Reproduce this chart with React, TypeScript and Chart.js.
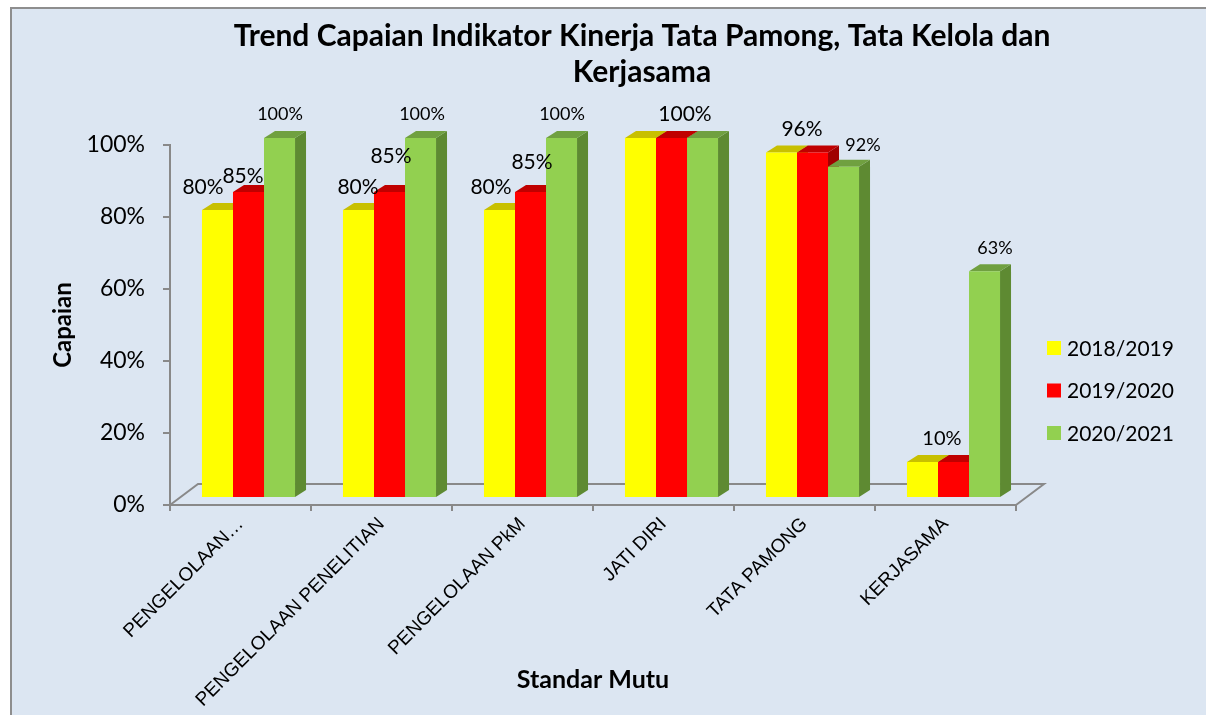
import React, { useEffect, useRef } from "react";
import { Chart, registerables } from "chart.js";

Chart.register(...registerables);

// ---------- data ----------
const categories = [
  "PENGELOLAAN…",
  "PENGELOLAAN PENELITIAN",
  "PENGELOLAAN PkM",
  "JATI DIRI",
  "TATA PAMONG",
  "KERJASAMA",
];
const seriesNames = ["2018/2019", "2019/2020", "2020/2021"];
const values2018 = [80, 80, 80, 100, 96, 10];
const values2019 = [85, 85, 85, 100, 96, 10];
const values2020 = [100, 100, 100, 100, 92, 63];
const yTickValues = [0, 20, 40, 60, 80, 100];

const titleLines = ["Trend Capaian Indikator Kinerja Tata Pamong, Tata Kelola dan", "Kerjasama"];
const yTitle = "Capaian";
const xTitle = "Standar Mutu";

// ---------- styles ----------
const seriesColors = [
  { front: "#FFFF00", top: "#C8C000", side: "#A8A200" },
  { front: "#FF0000", top: "#C00000", side: "#A00000" },
  { front: "#92D050", top: "#70A040", side: "#5E8A32" },
];
const axisGrey = "#898989";
const barPlane = { dx: 8, dy: -7 };
const barDepth = { dx: 11, dy: -7 };
const floorDepth = { dx: 28, dy: -21 };

// which value labels are shown, with their placement relative to the bar top
const valueLabels = [
  { s: 0, c: 0, dx: -14.5, dy: -23, size: 21 },
  { s: 1, c: 0, dx: -5.5, dy: -16, size: 21 },
  { s: 2, c: 0, dx: 0.5, dy: -24, size: 18 },
  { s: 0, c: 1, dx: -0.5, dy: -23, size: 21 },
  { s: 1, c: 1, dx: 1.5, dy: -36, size: 21 },
  { s: 2, c: 1, dx: 1.5, dy: -24, size: 18 },
  { s: 0, c: 2, dx: -8.5, dy: -23, size: 21 },
  { s: 1, c: 2, dx: 1.5, dy: -30, size: 21 },
  { s: 2, c: 2, dx: 0.5, dy: -24, size: 18 },
  { s: 1, c: 3, dx: 13.5, dy: -24, size: 21 },
  { s: 0, c: 4, dx: 20.5, dy: -23, size: 21 },
  { s: 2, c: 4, dx: 19.5, dy: -22, size: 18 },
  { s: 0, c: 5, dx: 19.5, dy: -23, size: 20 },
  { s: 2, c: 5, dx: 10.5, dy: -23, size: 18 },
];

const legendLayout = { x: 1047, y: 348, gap: 42.5, box: 14, textGap: 6, size: 21 };

function barGeom(chart: any, s: number, c: number) {
  const el = chart.getDatasetMeta(s).data[c];
  const p = el.getProps(["x", "y", "base", "width"], true);
  const L = p.x - p.width / 2 + barPlane.dx;
  const R = p.x + p.width / 2 + barPlane.dx;
  const T = p.y + barPlane.dy;
  const B = p.base + barPlane.dy;
  return { L, R, T, B, cx: p.x + barPlane.dx };
}

function poly(ctx: CanvasRenderingContext2D, pts: number[][], fill: string) {
  ctx.beginPath();
  ctx.moveTo(pts[0][0], pts[0][1]);
  for (let i = 1; i < pts.length; i++) ctx.lineTo(pts[i][0], pts[i][1]);
  ctx.closePath();
  ctx.fillStyle = fill;
  ctx.fill();
}

const threeDPlugin = {
  id: "threeD",
  beforeDatasetsDraw(chart: any) {
    const ctx: CanvasRenderingContext2D = chart.ctx;
    const { left, right, bottom } = chart.chartArea;
    ctx.save();
    // floor outline (back + sides)
    ctx.strokeStyle = axisGrey;
    ctx.lineWidth = 2;
    ctx.beginPath();
    ctx.moveTo(left, bottom);
    ctx.lineTo(left + floorDepth.dx, bottom + floorDepth.dy);
    ctx.lineTo(right + floorDepth.dx, bottom + floorDepth.dy);
    ctx.lineTo(right, bottom);
    ctx.stroke();
    // side and top faces
    const n = chart.data.labels.length;
    const m = chart.data.datasets.length;
    for (let c = 0; c < n; c++) {
      for (let s = 0; s < m; s++) {
        const { L, R, T, B } = barGeom(chart, s, c);
        const col = seriesColors[s];
        poly(
          ctx,
          [
            [R, T],
            [R + barDepth.dx, T + barDepth.dy],
            [R + barDepth.dx, B + barDepth.dy],
            [R, B],
          ],
          col.side
        );
        poly(
          ctx,
          [
            [L, T],
            [R, T],
            [R + barDepth.dx, T + barDepth.dy],
            [L + barDepth.dx, T + barDepth.dy],
          ],
          col.top
        );
      }
    }
    ctx.translate(barPlane.dx, barPlane.dy);
  },
  afterDatasetsDraw(chart: any) {
    const ctx: CanvasRenderingContext2D = chart.ctx;
    ctx.restore();
    ctx.save();
    // value labels
    ctx.fillStyle = "#000";
    ctx.textAlign = "center";
    ctx.textBaseline = "middle";
    valueLabels.forEach((lb) => {
      const { cx, T } = barGeom(chart, lb.s, lb.c);
      const v = chart.data.datasets[lb.s].data[lb.c];
      ctx.font = `${lb.size}px Lato`;
      ctx.fillText(`${v}%`, cx + lb.dx, T + lb.dy);
    });
    // legend
    ctx.textAlign = "left";
    ctx.font = `${legendLayout.size}px Lato`;
    chart.data.datasets.forEach((ds: any, i: number) => {
      const y = legendLayout.y + i * legendLayout.gap;
      ctx.fillStyle = ds.backgroundColor;
      ctx.fillRect(legendLayout.x, y - legendLayout.box / 2, legendLayout.box, legendLayout.box);
      ctx.fillStyle = "#000";
      ctx.fillText(ds.label, legendLayout.x + legendLayout.box + legendLayout.textGap, y + 1);
    });
    ctx.restore();
  },
};

export default function App() {
  const canvasRef = useRef<HTMLCanvasElement>(null);

  useEffect(() => {
    if (!canvasRef.current) return;
    const seriesValues = [values2018, values2019, values2020];
    const chart = new Chart(canvasRef.current, {
      type: "bar",
      data: {
        labels: categories,
        datasets: seriesNames.map((name, i) => ({
          label: name,
          data: seriesValues[i],
          backgroundColor: seriesColors[i].front,
          borderWidth: 0,
          categoryPercentage: 0.66,
          barPercentage: 1,
          clip: false as any,
        })),
      },
      options: {
        responsive: false,
        animation: false,
        layout: { padding: { left: 78, right: 0, top: 0, bottom: 0 } },
        plugins: {
          legend: { display: false },
          tooltip: { enabled: false },
          title: {
            display: true,
            text: titleLines,
            color: "#000",
            font: { family: "Lato", size: 30, weight: "bold", lineHeight: 36 / 30 },
            padding: { top: 18, bottom: 55 },
          },
        },
        scales: {
          x: {
            grid: {
              display: true,
              drawOnChartArea: false,
              drawTicks: true,
              tickLength: 6,
              color: axisGrey,
              lineWidth: 2,
            },
            border: { display: true, color: axisGrey, width: 2 },
            ticks: {
              autoSkip: false,
              minRotation: 45,
              maxRotation: 45,
              padding: 2,
              color: "#000",
              font: { family: "Liberation Sans", size: 19 },
            },
            title: {
              display: true,
              text: xTitle,
              color: "#000",
              font: { family: "Lato", size: 25, weight: "bold" },
              padding: { top: 0, bottom: 20 },
            },
            afterFit: (scale: any) => {
              scale.height = 210;
            },
          },
          y: {
            min: 0,
            max: 100,
            afterBuildTicks: (scale: any) => {
              scale.ticks = yTickValues.map((v) => ({ value: v }));
            },
            grid: {
              display: true,
              drawOnChartArea: false,
              drawTicks: true,
              tickLength: 7,
              color: axisGrey,
              lineWidth: 2,
            },
            border: { display: true, color: axisGrey, width: 2 },
            ticks: {
              padding: 18,
              color: "#000",
              font: { family: "Lato", size: 23 },
              callback: (v: any) => `${v}%`,
            },
            title: {
              display: true,
              text: yTitle,
              color: "#000",
              font: { family: "Lato", size: 24, weight: "bold" },
              padding: { top: -29.4, bottom: 0 },
            },
            afterFit: (scale: any) => {
              scale.width = 92;
            },
          },
          y2: {
            position: "right",
            display: true,
            min: 0,
            max: 100,
            grid: { display: false, drawTicks: false },
            border: { display: false },
            ticks: { display: false },
            afterFit: (scale: any) => {
              scale.width = 190;
            },
          },
        },
      } as any,
      plugins: [threeDPlugin],
    });
    return () => chart.destroy();
  }, []);

  return (
    <div style={{ position: "fixed", left: 0, top: 0, width: 1206, height: 715, background: "#fff", overflow: "hidden" }}>
      <div
        style={{
          position: "absolute",
          left: 10,
          top: 7,
          width: 1196,
          height: 708,
          boxSizing: "border-box",
          background: "#DCE6F2",
          borderTop: "2px solid #8e8e8e",
          borderLeft: "2px solid #8e8e8e",
        }}
      />
      <canvas
        ref={canvasRef}
        width={1206}
        height={715}
        style={{ position: "absolute", left: 0, top: 0, width: 1206, height: 715 }}
      />
    </div>
  );
}
